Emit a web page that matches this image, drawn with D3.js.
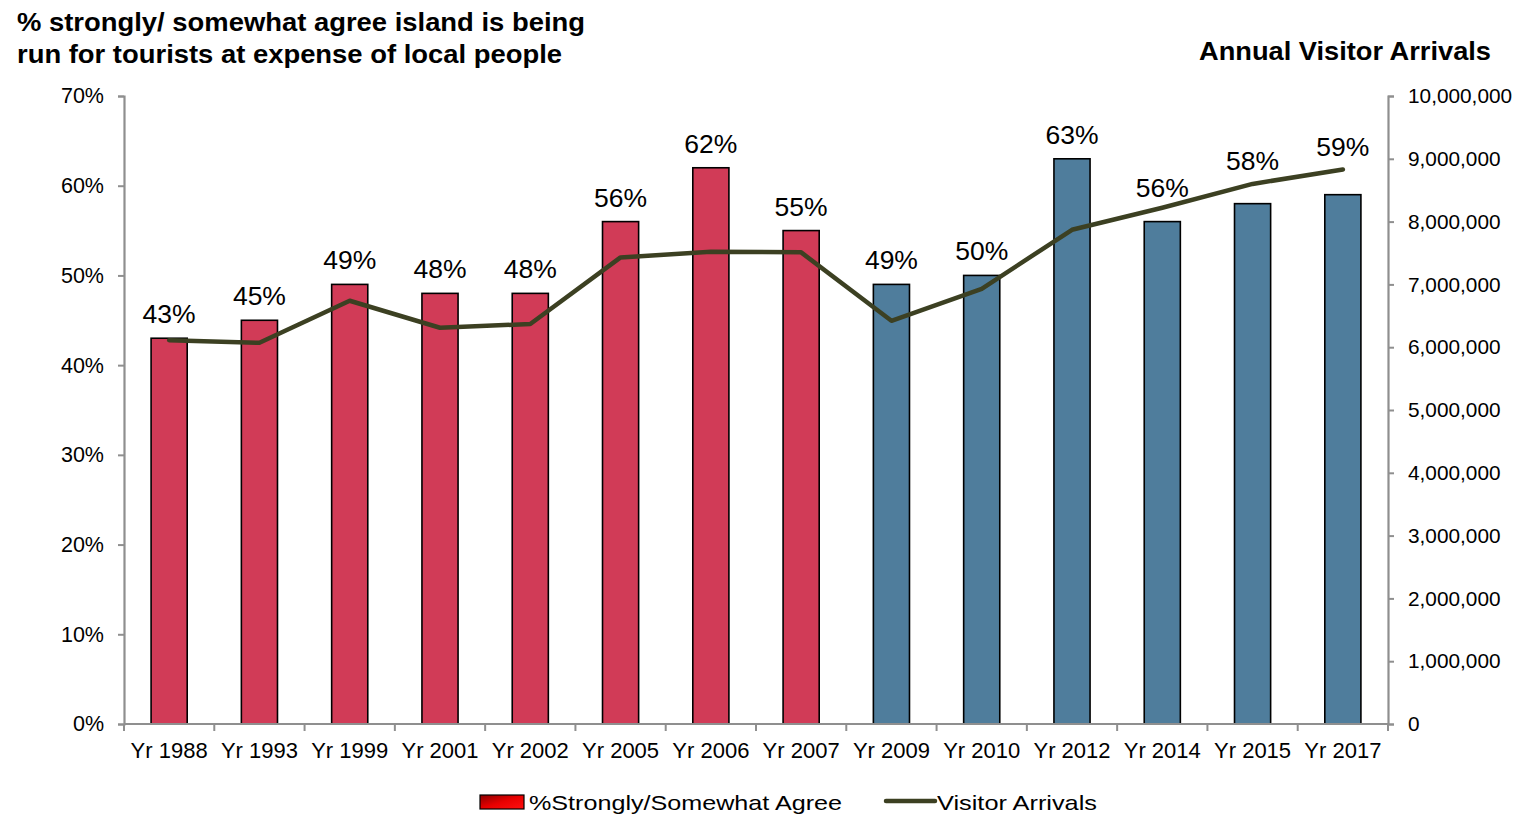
<!DOCTYPE html>
<html>
<head>
<meta charset="utf-8">
<script src="https://cdn.jsdelivr.net/npm/d3@7"></script>
<style>
  html, body { margin: 0; padding: 0; background: #fff; }
  svg { display: block; }
  text { font-family: "Liberation Sans", Arial, sans-serif; fill: #000; }
</style>
</head>
<body>
<svg id="chart" width="1517" height="814"></svg>
<script>
// ---- data ----
const categories = ["Yr 1988","Yr 1993","Yr 1999","Yr 2001","Yr 2002","Yr 2005","Yr 2006","Yr 2007","Yr 2009","Yr 2010","Yr 2012","Yr 2014","Yr 2015","Yr 2017"];
const agreePct = [43, 45, 49, 48, 48, 56, 62, 55, 49, 50, 63, 56, 58, 59];
const visitorArrivals = [6110000, 6070000, 6740000, 6310000, 6370000, 7430000, 7520000, 7510000, 6420000, 6930000, 7870000, 8220000, 8600000, 8830000];
const leftTicks = [0, 10, 20, 30, 40, 50, 60, 70];
const rightTicks = [0, 1000000, 2000000, 3000000, 4000000, 5000000, 6000000, 7000000, 8000000, 9000000, 10000000];
const titleLines = ["% strongly/ somewhat agree island is being", "run for tourists at expense of local people"];
const rightTitle = "Annual Visitor Arrivals";
const legendLabels = ["%Strongly/Somewhat Agree", "Visitor Arrivals"];

// ---- layout ----
const svg = d3.select("#chart");
const L = 124, R = 1388, T = 96, B = 724;
const axisColor = "#8f8f8f";
const redFill = "#D13B57", blueFill = "#4F7D9C", lineColor = "#3C4022";
// labels lifted clear of the line for the last three years (as in the original)
const labelLift = {"Yr 2014": 10, "Yr 2015": 19, "Yr 2017": 24};
const titleWidths = [568, 545];

const x = d3.scaleBand().domain(categories).range([L, R]).paddingInner(0.6).paddingOuter(0.3);
const xEdge = d3.scaleLinear().domain([0, categories.length]).range([L, R]);
const yL = d3.scaleLinear().domain([0, 70]).range([B, T]);
const yR = d3.scaleLinear().domain([0, 10000000]).range([B, T]);

// bars
svg.append("g").selectAll("rect").data(categories).join("rect")
  .attr("x", d => x(d))
  .attr("y", (d, i) => yL(agreePct[i]))
  .attr("width", x.bandwidth())
  .attr("height", (d, i) => B - yL(agreePct[i]))
  .attr("fill", (d, i) => i < 8 ? redFill : blueFill)
  .attr("stroke", "#000").attr("stroke-width", 1.6);

// left axis
const gl = svg.append("g").attr("transform", `translate(${L},0)`)
  .call(d3.axisLeft(yL).tickValues(leftTicks).tickFormat(d => d + "%").tickSize(6).tickPadding(14));
gl.select(".domain").attr("stroke", axisColor).attr("stroke-width", 2.2);
gl.selectAll(".tick line").attr("stroke", axisColor).attr("stroke-width", 2);
gl.selectAll(".tick text").attr("font-size", 21.5).attr("font-family", "Liberation Sans, Arial, sans-serif").attr("fill", "#000");

// right axis
const gr = svg.append("g").attr("transform", `translate(${R},0)`)
  .call(d3.axisRight(yR).tickValues(rightTicks).tickFormat(d3.format(",")).tickSize(6).tickPadding(14));
gr.select(".domain").attr("stroke", axisColor).attr("stroke-width", 2.2);
gr.selectAll(".tick line").attr("stroke", axisColor).attr("stroke-width", 2);
gr.selectAll(".tick text").attr("font-size", 20.8).attr("font-family", "Liberation Sans, Arial, sans-serif").attr("fill", "#000");

// x axis
const gx = svg.append("g").attr("transform", `translate(0,${B})`);
gx.append("line").attr("x1", L).attr("x2", R).attr("y1", 0).attr("y2", 0)
  .attr("stroke", axisColor).attr("stroke-width", 2.2);
gx.selectAll("line.tk").data(d3.range(categories.length + 1)).join("line").attr("class", "tk")
  .attr("x1", d => xEdge(d)).attr("x2", d => xEdge(d)).attr("y1", 0).attr("y2", 7)
  .attr("stroke", axisColor).attr("stroke-width", 2);
gx.selectAll("text").data(categories).join("text")
  .attr("x", d => x(d) + x.bandwidth() / 2).attr("y", 34)
  .attr("text-anchor", "middle").attr("font-size", 22)
  .text(d => d);

// line
const line = d3.line().x((d, i) => x(categories[i]) + x.bandwidth() / 2).y(d => yR(d));
svg.append("path").datum(visitorArrivals)
  .attr("d", line).attr("fill", "none")
  .attr("stroke", lineColor).attr("stroke-width", 4.5)
  .attr("stroke-linejoin", "round").attr("stroke-linecap", "round");

// value labels
svg.append("g").selectAll("text").data(categories).join("text")
  .attr("x", d => x(d) + x.bandwidth() / 2)
  .attr("y", (d, i) => yL(agreePct[i]) - 15 - (labelLift[d] || 0))
  .attr("text-anchor", "middle").attr("font-size", 26.5)
  .text((d, i) => agreePct[i] + "%");

// titles
svg.append("g").selectAll("text").data(titleLines).join("text")
  .attr("x", 17).attr("y", (d, i) => 31 + i * 32)
  .attr("font-size", 26).attr("font-weight", "bold")
  .attr("textLength", (d, i) => titleWidths[i]).attr("lengthAdjust", "spacingAndGlyphs")
  .text(d => d);

svg.append("text").attr("x", 1491).attr("y", 60).attr("text-anchor", "end")
  .attr("font-size", 26).attr("font-weight", "bold")
  .attr("textLength", 292).attr("lengthAdjust", "spacingAndGlyphs").text(rightTitle);

// legend
const defs = svg.append("defs");
const grad = defs.append("linearGradient").attr("id", "lg").attr("x1", "0").attr("x2", "1").attr("y1", "0").attr("y2", "1");
grad.append("stop").attr("offset", "0%").attr("stop-color", "#8a0000");
grad.append("stop").attr("offset", "50%").attr("stop-color", "#e80000");
grad.append("stop").attr("offset", "100%").attr("stop-color", "#ff1010");
svg.append("rect").attr("x", 480).attr("y", 795).attr("width", 44).attr("height", 14)
  .attr("fill", "url(#lg)").attr("stroke", "#000").attr("stroke-width", 1.2);
svg.append("text").attr("x", 529).attr("y", 810).attr("font-family", "Noto Sans, Open Sans, sans-serif")
  .attr("font-size", 21).attr("textLength", 313).attr("lengthAdjust", "spacingAndGlyphs")
  .text(legendLabels[0]);
svg.append("line").attr("x1", 886).attr("x2", 935).attr("y1", 801).attr("y2", 801)
  .attr("stroke", lineColor).attr("stroke-width", 4.5).attr("stroke-linecap", "round");
svg.append("text").attr("x", 937).attr("y", 810).attr("font-family", "Noto Sans, Open Sans, sans-serif")
  .attr("font-size", 21).attr("textLength", 160).attr("lengthAdjust", "spacingAndGlyphs")
  .text(legendLabels[1]);
</script>
</body>
</html>
